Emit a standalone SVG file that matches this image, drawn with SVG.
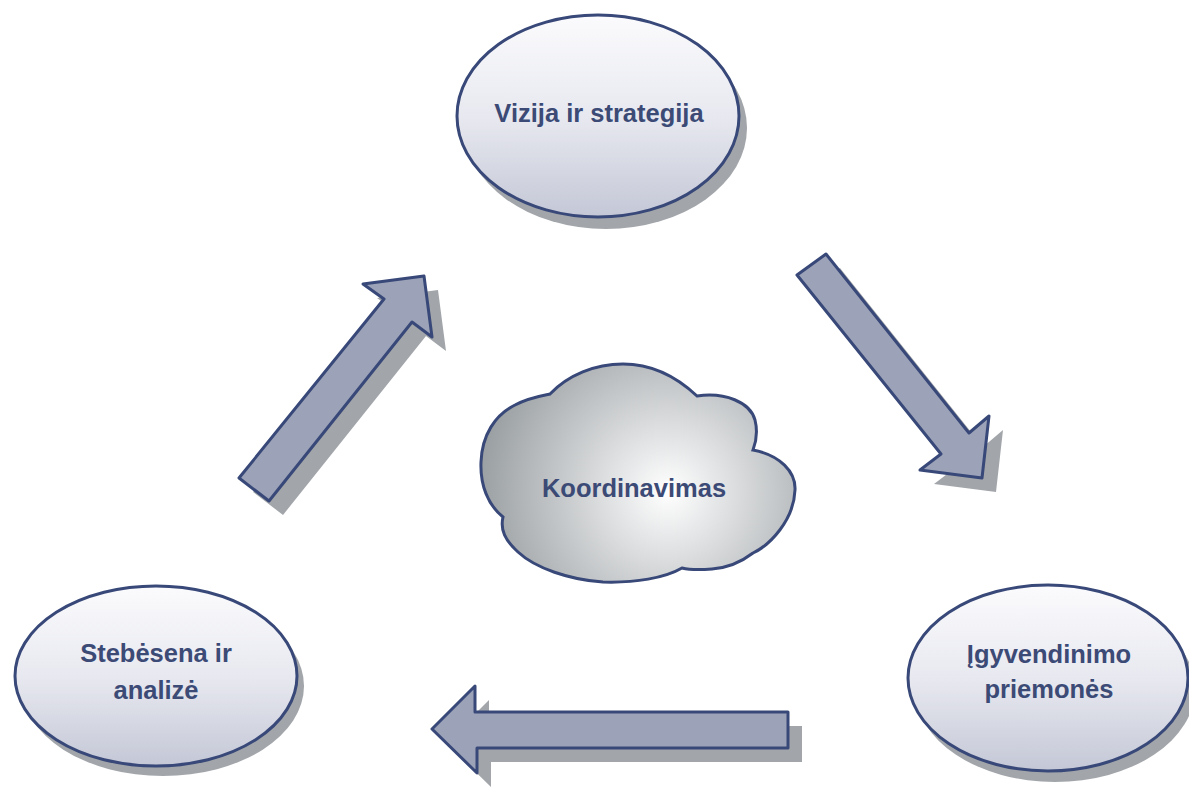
<svg xmlns="http://www.w3.org/2000/svg" width="1189" height="787" viewBox="0 0 1189 787">
<defs>
<linearGradient id="ellFill" x1="0" y1="0" x2="0" y2="1">
<stop offset="0" stop-color="#fbfbfd"/>
<stop offset="0.5" stop-color="#e8e9f0"/>
<stop offset="1" stop-color="#c4c7d6"/>
</linearGradient>
<radialGradient id="cloudFill" gradientUnits="userSpaceOnUse" cx="668" cy="492" r="215">
<stop offset="0" stop-color="#ffffff"/>
<stop offset="1" stop-color="#8c9296"/>
</radialGradient>
<style>
.shadow{fill:#a2a6aa;}
.ell{fill:url(#ellFill);stroke:#384878;stroke-width:3;}
.arrow{fill:#9ca3b8;stroke:#384878;stroke-width:3;stroke-linejoin:round;}
.cloud{fill:url(#cloudFill);stroke:#384878;stroke-width:3;}
.lbl{font-family:"Liberation Sans",Arial,sans-serif;font-weight:bold;font-size:25.5px;fill:#3c4a76;text-anchor:middle;}
</style>
</defs>
<rect width="1189" height="787" fill="#ffffff"/>

<g id="connectors">
<g id="arrow-up">
<polygon class="shadow" transform="translate(14,14)" points="239,478 384,299 363,284 424,276 432,337 412,322 269,501"/>
<polygon class="arrow" points="239,478 384,299 363,284 424,276 432,337 412,322 269,501"/>
</g>
<g id="arrow-down">
<polygon class="shadow" transform="translate(14,14)" points="797,275 826,254 969,433 989,416 982,478 920,470 941,454"/>
<polygon class="arrow" points="797,275 826,254 969,433 989,416 982,478 920,470 941,454"/>
</g>
<g id="arrow-left">
<polygon class="shadow" transform="translate(14,14)" points="432,729 475,686 475,712 788,712 788,748 477,748 477,773"/>
<polygon class="arrow" points="432,729 475,686 475,712 788,712 788,748 477,748 477,773"/>
</g>
</g>

<g id="node-vizija">
<ellipse class="shadow" cx="606" cy="128" rx="141" ry="101"/>
<ellipse class="ell" cx="598" cy="116" rx="141" ry="101"/>
<text class="lbl" x="599" y="122">Vizija ir strategija</text>
</g>

<g id="node-stebesena">
<ellipse class="shadow" cx="163" cy="686" rx="141" ry="90"/>
<ellipse class="ell" cx="156" cy="676" rx="141" ry="90"/>
<text class="lbl" x="156" y="662">Stebėsena ir</text>
<text class="lbl" x="156" y="699">analizė</text>
</g>

<g id="node-igyvendinimo">
<ellipse class="shadow" cx="1055" cy="689" rx="140" ry="93"/>
<ellipse class="ell" cx="1048" cy="678" rx="140" ry="93"/>
<text class="lbl" x="1049" y="663">Įgyvendinimo</text>
<text class="lbl" x="1049" y="698">priemonės</text>
</g>

<g id="node-koordinavimas">
<path class="cloud" d="M 503,517 C 488,505 480,485 481,462 C 482,435 495,415 515,405 C 528,398 540,396 550,394 C 568,375 595,364 623,364 C 655,364 680,380 697,396 C 725,392 750,402 755,420 C 758,432 756,442 753,450 C 780,455 796,472 795,490 C 794,520 770,545 753,553 C 740,563 725,568 712,569 C 700,570 690,570 682,568 C 665,578 635,583 603,582 C 570,580 535,568 518,552 C 505,540 500,530 503,517 Z"/>
<text class="lbl" x="634" y="497">Koordinavimas</text>
</g>
</svg>
